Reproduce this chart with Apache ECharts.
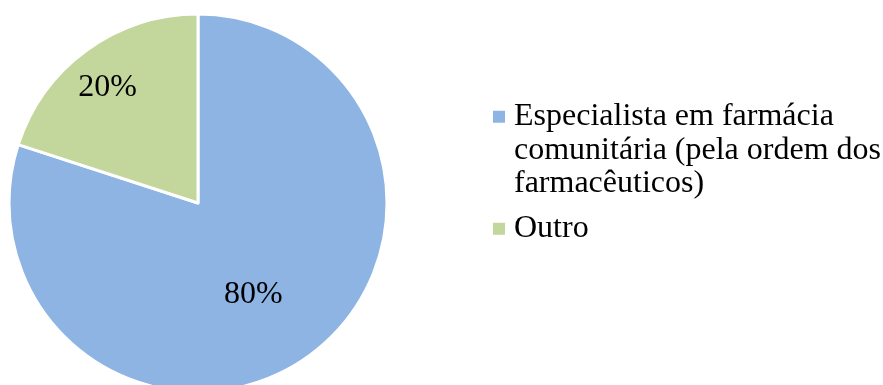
<!DOCTYPE html>
<html>
<head>
<meta charset="utf-8">
<script src="https://cdn.jsdelivr.net/npm/echarts@6/dist/echarts.min.js"></script>
<style>
html,body{margin:0;padding:0;background:#fff;}
#c{width:883px;height:385px;}
</style>
</head>
<body>
<div id="c"></div>
<script>
const categories = ['Especialista em farmácia comunitária (pela ordem dos farmacêuticos)', 'Outro'];
const legendLines = [
  ['Especialista em farmácia', 'comunitária (pela ordem dos', 'farmacêuticos)'],
  ['Outro']
];
const values = [80, 20];
const colors = ['#8EB4E3', '#C3D69B'];

const font = '"Liberation Serif", "Times New Roman", serif';
const labelOffsets = [[-2, 13], [-33, -37]];
const LH = 33.5;

function legendText(name) {
  const lines = legendLines[categories.indexOf(name)];
  // pad with blank lines above so the marker sits on the first line
  const blanks = [];
  for (let i = 1; i < lines.length; i++) blanks.push('{e| }');
  return blanks.concat(lines.map(l => '{t|' + l + '}')).join('\n');
}

const chart = echarts.init(document.getElementById('c'), null, {renderer: 'canvas'});
chart.setOption({
  animation: false,
  backgroundColor: '#ffffff',
  legend: {
    orient: 'vertical',
    left: 493,
    top: 33,
    padding: 0,
    itemGap: 11.5,
    itemWidth: 12,
    itemHeight: 12,
    icon: 'rect',
    itemStyle: {borderWidth: 0},
    formatter: legendText,
    textStyle: {
      fontFamily: font, fontSize: 32, lineHeight: LH, color: '#000',
      rich: {
        t: {fontFamily: font, fontSize: 32, lineHeight: LH, color: '#000', padding: [0, 0, 0, 4]},
        e: {fontFamily: font, fontSize: 32, lineHeight: LH, color: '#000'}
      }
    },
    data: categories
  },
  series: [{
    type: 'pie',
    center: [198, 203],
    radius: 189,
    startAngle: 90,
    clockwise: true,
    avoidLabelOverlap: false,
    itemStyle: {borderColor: '#ffffff', borderWidth: 3},
    label: {
      show: true,
      position: 'inside',
      formatter: '{d}%',
      fontFamily: font,
      fontSize: 32,
      color: '#000'
    },
    labelLine: {show: false},
    emphasis: {disabled: true},
    data: categories.map((n, i) => ({
      name: n,
      value: values[i],
      itemStyle: {color: colors[i]},
      label: {offset: labelOffsets[i]}
    }))
  }]
});
</script>
</body>
</html>
